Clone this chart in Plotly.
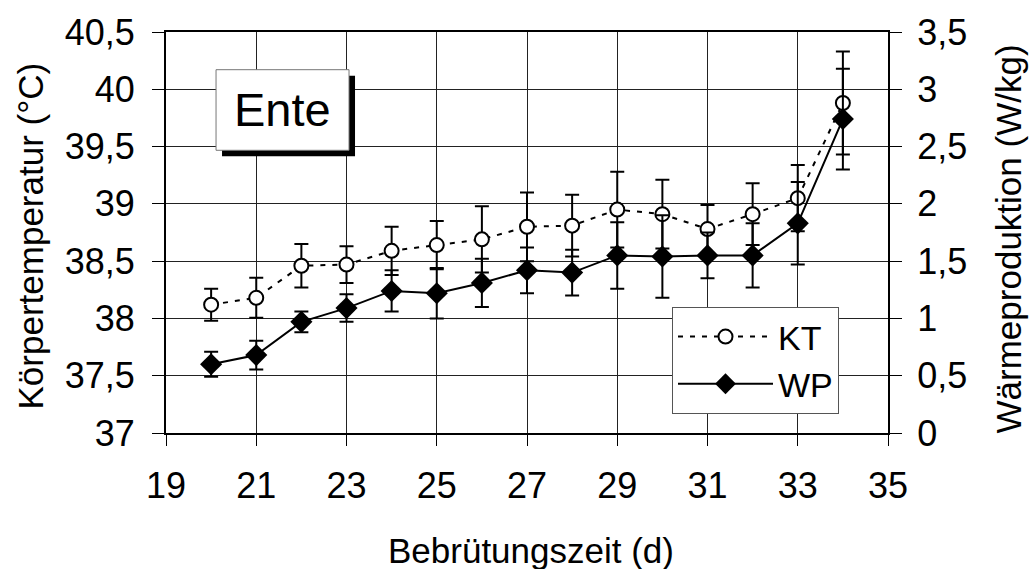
import plotly.graph_objects as go

# Data
days = [20, 21, 22, 23, 24, 25, 26, 27, 28, 29, 30, 31, 32, 33, 34]
kt = [38.12, 38.18, 38.46, 38.47, 38.59, 38.64, 38.69, 38.80, 38.81, 38.95, 38.91, 38.78, 38.91, 39.05, 39.88]
kt_err = [0.14, 0.175, 0.19, 0.16, 0.21, 0.21, 0.29, 0.30, 0.27, 0.33, 0.30, 0.21, 0.27, 0.29, 0.45]
wp = [0.60, 0.68, 0.97, 1.09, 1.24, 1.22, 1.31, 1.42, 1.40, 1.55, 1.54, 1.55, 1.55, 1.83, 2.74]
wp_err = [0.11, 0.125, 0.09, 0.12, 0.18, 0.22, 0.21, 0.20, 0.20, 0.29, 0.36, 0.20, 0.28, 0.36, 0.44]

x_ticks = [19, 21, 23, 25, 27, 29, 31, 33, 35]
y_left_vals = [37, 37.5, 38, 38.5, 39, 39.5, 40, 40.5]
y_left_text = ["37", "37,5", "38", "38,5", "39", "39,5", "40", "40,5"]
y_right_vals = [0, 0.5, 1, 1.5, 2, 2.5, 3, 3.5]
y_right_text = ["0", "0,5", "1", "1,5", "2", "2,5", "3", "3,5"]

FONT = "Liberation Sans, Arial, sans-serif"

fig = go.Figure()
fig.add_trace(go.Scatter(
    x=days, y=kt, name="KT", mode="lines+markers",
    line=dict(color="black", width=2, dash="5px,7px"),
    marker=dict(symbol="circle", size=14, color="white", line=dict(color="black", width=2)),
    error_y=dict(type="data", array=kt_err, visible=True, color="black", thickness=2, width=7),
    yaxis="y",
))
fig.add_trace(go.Scatter(
    x=days, y=wp, name="WP", mode="lines+markers",
    line=dict(color="black", width=2),
    marker=dict(symbol="diamond", size=17, color="black"),
    error_y=dict(type="data", array=wp_err, visible=True, color="black", thickness=2, width=7),
    yaxis="y2",
))

# "Ente" box with shadow
bx0, bx1, by0, by1 = 0.0693, 0.2535, 0.705, 0.906
dx, dy = 6 / 722, 6 / 404
fig.add_shape(type="rect", xref="paper", yref="paper",
              x0=bx0 + dx, x1=bx1 + dx, y0=by0 - dy, y1=by1 - dy,
              fillcolor="black", line=dict(width=0), layer="above")
fig.add_shape(type="rect", xref="paper", yref="paper",
              x0=bx0, x1=bx1, y0=by0, y1=by1,
              fillcolor="white", line=dict(color="#777", width=1), layer="above")
fig.add_annotation(text="Ente", xref="paper", yref="paper",
                   x=(bx0 + bx1) / 2, y=(by0 + by1) / 2, showarrow=False,
                   font=dict(size=47, color="black", family=FONT),
                   xanchor="center", yanchor="middle")

# Axis titles
fig.add_annotation(text="Körpertemperatur (°C)", xref="paper", yref="paper",
                   x=(30 - 166) / 722, y=(433 - 235) / 404, textangle=-90, showarrow=False,
                   font=dict(size=35, color="black", family=FONT),
                   xanchor="center", yanchor="middle")
fig.add_annotation(text="Wärmeproduktion (W/kg)", xref="paper", yref="paper",
                   x=(1008 - 166) / 722, y=(433 - 238) / 404, textangle=-90, showarrow=False,
                   font=dict(size=35, color="black", family=FONT),
                   xanchor="center", yanchor="middle")
fig.add_annotation(text="Bebrütungszeit (d)", xref="paper", yref="paper",
                   x=(531 - 166) / 722, y=(433 - 551) / 404, showarrow=False,
                   font=dict(size=35, color="black", family=FONT),
                   xanchor="center", yanchor="middle")

fig.update_layout(
    width=1030, height=569,
    margin=dict(l=166, r=142, t=29, b=136),
    paper_bgcolor="white", plot_bgcolor="white",
    font=dict(family=FONT, size=36, color="black"),
    showlegend=True,
    legend=dict(x=(672 - 166) / 722, y=(433 - 306) / 404, xanchor="left", yanchor="top",
                bgcolor="white", bordercolor="#555", borderwidth=1,
                font=dict(size=34, family=FONT, color="black"),
                itemwidth=95, tracegroupgap=0),
    xaxis=dict(range=[19, 35], tickvals=x_ticks, ticktext=[str(v) for v in x_ticks],
               showgrid=True, gridcolor="#222", gridwidth=1,
               showline=True, linecolor="black", linewidth=2, mirror=True,
               ticks="outside", ticklen=11, tickwidth=1, tickcolor="black",
               zeroline=False, ticklabelstandoff=9),
    yaxis=dict(range=[37, 40.5], tickvals=y_left_vals, ticktext=y_left_text,
               showgrid=True, gridcolor="#222", gridwidth=1,
               showline=True, linecolor="black", linewidth=2,
               ticks="outside", ticklen=12, tickwidth=1, tickcolor="black",
               zeroline=False, ticklabelstandoff=10),
    yaxis2=dict(range=[0, 3.5], tickvals=y_right_vals, ticktext=y_right_text,
                overlaying="y", side="right", showgrid=False,
                showline=True, linecolor="black", linewidth=2,
                ticks="outside", ticklen=12, tickwidth=1, tickcolor="black",
                zeroline=False, ticklabelstandoff=8),
)

fig.write_html("out.html", config={"displayModeBar": False},
               post_script="document.body.style.margin='0';document.body.style.overflow='hidden';")
